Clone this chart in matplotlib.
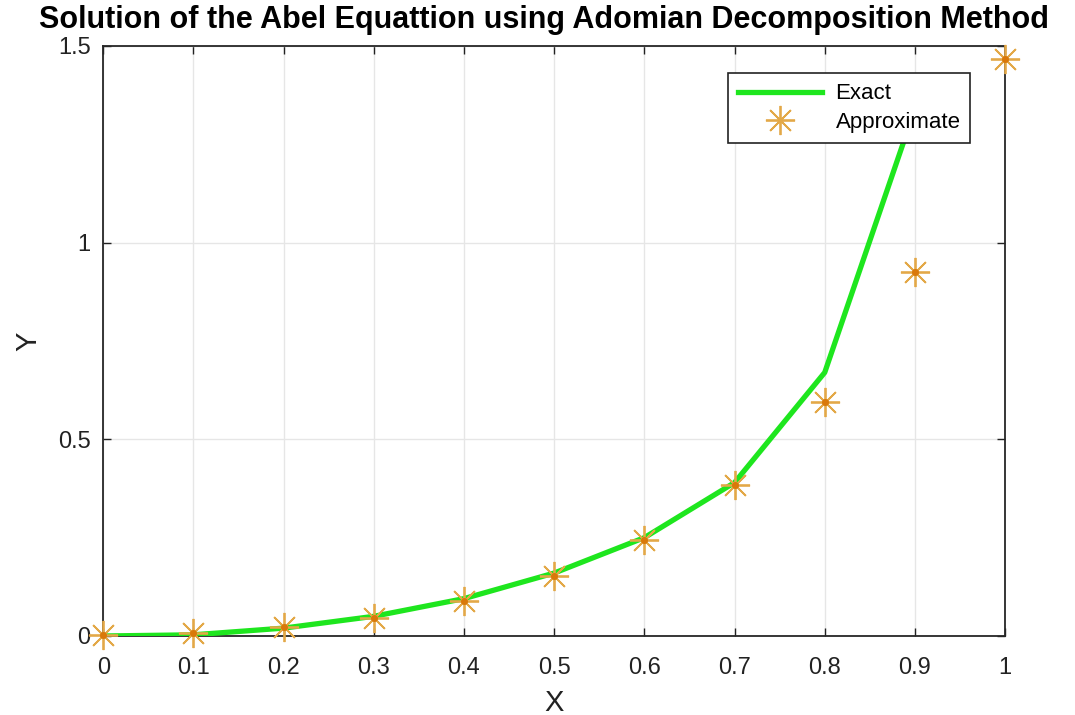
import numpy as np
import matplotlib.pyplot as plt

plt.rcParams['font.family'] = ['Liberation Sans', 'DejaVu Sans']

# exact solution (last part hidden behind the legend in the original)
x_exact = [0, 0.1, 0.2, 0.3, 0.4, 0.5, 0.6, 0.7, 0.8, 0.9]
y_exact = [0, 0.003, 0.02, 0.05, 0.095, 0.16, 0.25, 0.39, 0.67, 1.34]

# ADM approximation
x_approx = [0, 0.1, 0.2, 0.3, 0.4, 0.5, 0.6, 0.7, 0.8, 0.9, 1.0]
y_approx = [0.003, 0.008, 0.023, 0.047, 0.089, 0.152, 0.245, 0.385, 0.596, 0.926, 1.466]

xticks = [0, 0.1, 0.2, 0.3, 0.4, 0.5, 0.6, 0.7, 0.8, 0.9, 1]
xticklabels = ['0', '0.1', '0.2', '0.3', '0.4', '0.5', '0.6', '0.7', '0.8', '0.9', '1']
yticks = [0, 0.5, 1, 1.5]
yticklabels = ['0', '0.5', '1', '1.5']

fig = plt.figure(figsize=(10.75, 7.15), dpi=100)
ax = fig.add_axes([0.096, 0.1105, 0.839, 0.8252])

ax.plot(x_exact, y_exact, color='#1ee61e', linewidth=3.8, label='Exact', zorder=3)
ax.plot(x_approx, y_approx, linestyle='none', marker=(8, 2, 0), markersize=21,
        markeredgewidth=1.3, color='#e3a847', label='Approximate', zorder=4, clip_on=False)
ax.plot(x_approx, y_approx, linestyle='none', marker='o', markersize=4,
        color='#d9780a', zorder=5, clip_on=False)

ax.set_xlim(0, 1)
ax.set_ylim(0, 1.5)
ax.set_xticks(xticks)
ax.set_xticklabels(xticklabels)
ax.set_yticks(yticks)
ax.set_yticklabels(yticklabels)
ax.tick_params(direction='in', top=True, right=True, length=6, width=1,
               labelsize=17, colors='#222222', pad=9)
ax.tick_params(axis='x', pad=15)
ax.grid(True, color='#e6e6e6', linewidth=1)
ax.set_axisbelow(True)
for s in ax.spines.values():
    s.set_linewidth(1.3)
    s.set_color('#262626')

ax.set_xlabel('X', fontsize=21, color='#222222', va='center')
ax.xaxis.set_label_coords(0.5, -0.113)
ax.set_ylabel('Y', fontsize=21, color='#222222', va='center')
ax.yaxis.set_label_coords(-0.083, 0.5)
fig.suptitle('Solution of the Abel Equattion using Adomian Decomposition Method',
             x=0.506, y=0.993, ha='center', va='top', fontsize=22, fontweight='bold')

handles, labels = ax.get_legend_handles_labels()
leg = ax.legend(handles[:2], labels[:2], loc='upper right', bbox_to_anchor=(0.969, 0.965),
                fontsize=16, frameon=True, fancybox=False, framealpha=1,
                edgecolor='#222222', handlelength=3.8, borderpad=0.45,
                labelspacing=0.35, handletextpad=0.6, borderaxespad=0.3)
leg.get_frame().set_linewidth(1.2)

fig.savefig('out.png', dpi=100)
